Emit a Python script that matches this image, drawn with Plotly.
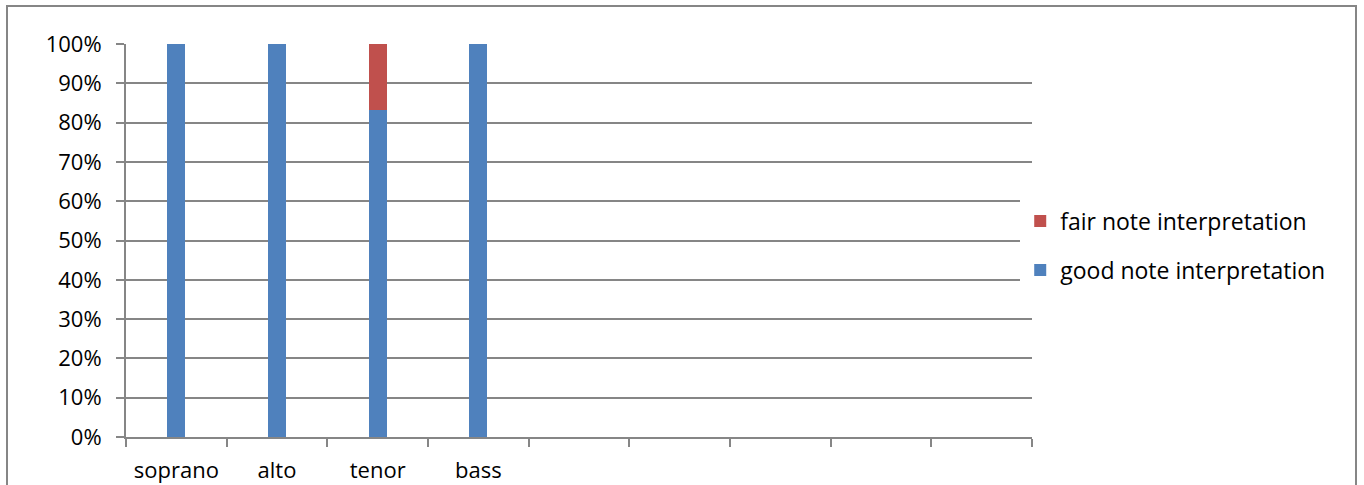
import plotly.graph_objects as go

# Note interpretation share per voice part (percent)
voices = ["soprano", "alto", "tenor", "bass"]
good_note = [100, 100, 83.3, 100]
fair_note = [0, 0, 16.7, 0]
n_slots = 9  # the category axis has nine slots, only four are used

BLUE = "#4F81BD"
RED = "#C0504D"
GRID = "#868686"
FONT = dict(family="Open Sans", size=22, color="#000000")
LEGEND_FONT = dict(family="Open Sans", size=23, color="#000000")

x_pos = list(range(len(voices)))

fig = go.Figure()
fig.add_trace(go.Bar(
    x=x_pos, y=good_note, name="good note interpretation",
    marker=dict(color=BLUE, line=dict(width=0)), width=0.18,
    legendgroup="good", legendrank=2,
))
fig.add_trace(go.Bar(
    x=x_pos, y=fair_note, name="fair note interpretation",
    marker=dict(color=RED, line=dict(width=0)), width=0.18,
    legendgroup="fair", legendrank=1,
))

fig.update_layout(
    width=1364, height=485,
    margin=dict(l=126, r=332, t=44, b=48, autoexpand=False),
    barmode="stack",
    paper_bgcolor="white", plot_bgcolor="white",
    font=FONT,
    showlegend=True,
    legend=dict(
        x=0.987, y=0.487, xanchor="left", yanchor="middle",
        traceorder="grouped", tracegroupgap=16,
        font=LEGEND_FONT, itemwidth=30,
    ),
    xaxis=dict(
        range=[-0.5, n_slots - 0.5], automargin=False,
        tickmode="array", tickvals=x_pos, ticktext=voices,
        ticks="", showgrid=False, zeroline=False,
        showline=True, linecolor=GRID, linewidth=2,
        ticklabelstandoff=13,
        minor=dict(tickmode="linear", tick0=-0.5, dtick=1, ticks="outside",
                   ticklen=8, tickwidth=2, tickcolor=GRID, showgrid=False),
    ),
    yaxis=dict(
        range=[0, 100], automargin=False,
        tickmode="linear", tick0=0, dtick=10, ticksuffix="%",
        showgrid=True, gridcolor=GRID, gridwidth=2,
        zeroline=False, showline=True, linecolor=GRID, linewidth=2,
        ticks="outside", ticklen=8, tickwidth=2, tickcolor=GRID,
        ticklabelstandoff=10,
    ),
    shapes=[dict(
        type="rect", xref="paper", yref="paper",
        x0=(7 - 126) / 906, x1=(1356 - 126) / 906,
        y0=-0.3, y1=(437 - 6) / 393,
        line=dict(color=GRID, width=2), fillcolor="rgba(0,0,0,0)", layer="below",
    )],
)

fig.write_html("out.html")
